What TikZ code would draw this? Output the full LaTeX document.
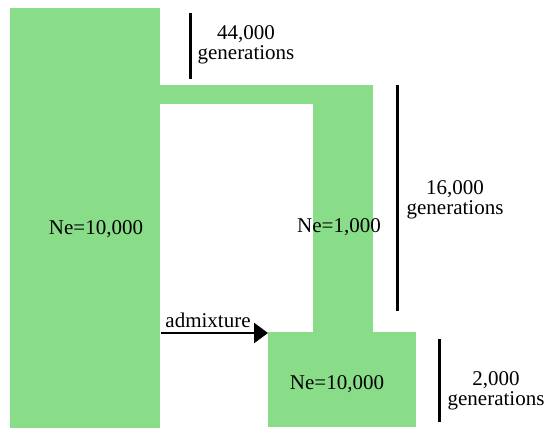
\documentclass[tikz,border=0pt]{standalone}
\usepackage{fontspec}
\setmainfont{Liberation Serif}
\usetikzlibrary{arrows.meta}
\definecolor{popgreen}{HTML}{89DD89}
\begin{document}
\begin{tikzpicture}[x=1pt,y=-1pt,
  lbl/.style={font=\fontsize{21}{20}\selectfont,align=center,inner sep=0pt},
  bar/.style={line width=3pt,black},
  arr/.style={line width=2.7pt,-{Triangle[length=14pt,width=20pt]}}]
\useasboundingbox (0,0) rectangle (548,429);
% population blocks
\fill[popgreen] (10,8) rectangle (160,428);
\fill[popgreen] (160,85) rectangle (373,104);
\fill[popgreen] (313,104) rectangle (373,332);
\fill[popgreen] (268,332) rectangle (416,427);
\node[lbl] (anc) at (96,229) {Ne=10,000};
\node[lbl] (bot) at (337,384) {Ne=10,000};
\node[lbl] (neb) at (339,227) {Ne=1,000};
\coordinate (blockleft) at (268,333);
\coordinate (admstart) at (161,333);
\draw[arr] (admstart) -- (blockleft);
\node[lbl,anchor=south] (adm) at (208,328) {admixture};
% time bars
\coordinate (t1a) at (190,13); \coordinate (t1b) at (190,79);
\draw[bar] (t1a) -- (t1b);
\node[lbl] (g1) at (246,45) {44,000\\generations};
\coordinate (t2a) at (397,85); \coordinate (t2b) at (397,311);
\draw[bar] (t2a) -- (t2b);
\node[lbl] (g2) at (455,200) {16,000\\generations};
\coordinate (t3a) at (439,339); \coordinate (t3b) at (439,422);
\draw[bar] (t3a) -- (t3b);
\node[lbl] (g3) at (496,391) {2,000\\generations};
\end{tikzpicture}
\end{document}
